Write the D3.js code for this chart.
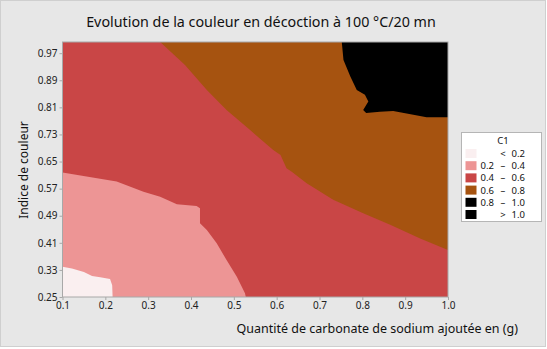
<!DOCTYPE html>
<html>
<head>
<meta charset="utf-8">
<script src="https://cdn.jsdelivr.net/npm/d3@7"></script>
<style>
  body { margin: 0; background: #fff; }
  svg { display: block; }
</style>
</head>
<body>
<script>
// contour boundaries, [x (g), indice]
const whiteEdge = [[0.1, 0.339], [0.122, 0.334], [0.150, 0.324], [0.169, 0.312], [0.188, 0.308],
  [0.211, 0.303], [0.216, 0.285], [0.217, 0.25]];
const pinkEdge = [[0.1, 0.618], [0.149, 0.607], [0.2265, 0.591], [0.289, 0.561], [0.328, 0.546],
  [0.367, 0.524], [0.413, 0.519], [0.421, 0.512], [0.421, 0.468], [0.437, 0.448], [0.460, 0.409],
  [0.483, 0.359], [0.507, 0.310], [0.526, 0.261], [0.528, 0.25]];
const orangeEdge = [[0.328, 1.003], [0.386, 0.935], [0.437, 0.861], [0.483, 0.802], [0.538, 0.743],
  [0.592, 0.684], [0.609, 0.669], [0.623, 0.630], [0.636, 0.619], [0.670, 0.586], [0.732, 0.537],
  [0.802, 0.497], [0.865, 0.463], [0.935, 0.423], [1.0, 0.389]];
const blackEdge = [[0.752, 1.003], [0.756, 0.950], [0.772, 0.901], [0.787, 0.861], [0.806, 0.847],
  [0.814, 0.827], [0.802, 0.802], [0.809, 0.793], [0.841, 0.797], [0.872, 0.799], [0.919, 0.788],
  [0.950, 0.781], [1.0, 0.781]];

const xTicks = [0.1, 0.2, 0.3, 0.4, 0.5, 0.6, 0.7, 0.8, 0.9, 1.0];
const yTicks = [0.25, 0.33, 0.41, 0.49, 0.57, 0.65, 0.73, 0.81, 0.89, 0.97];

const legendLabels = [["", "<", "0.2"], ["0.2", "–", "0.4"], ["0.4", "–", "0.6"],
  ["0.6", "–", "0.8"], ["0.8", "–", "1.0"], ["", ">", "1.0"]];
const colors = ["#faeff0", "#ed9595", "#c94646", "#a65310", "#000000", "#000000"];

const width = 547, height = 349;
const font = "'Noto Sans', 'Open Sans', sans-serif";

const svg = d3.select("body").append("svg")
  .attr("width", width).attr("height", height)
  .style("font-family", font);

svg.append("rect").attr("x", 0.5).attr("y", 0.5)
  .attr("width", width - 2).attr("height", height - 3)
  .attr("fill", "#e7e7e7").attr("stroke", "#cfcfcf");

const x = d3.scaleLinear().domain([0.1, 1.0]).range([62.5, 448]);
const y = d3.scaleLinear().domain([0.25, 1.003]).range([297, 42]);

const line = d3.line().x(d => x(d[0])).y(d => y(d[1]));

// base band 0.4 - 0.6 fills the whole plot
svg.append("rect")
  .attr("x", x(0.1)).attr("y", y(1.003))
  .attr("width", x(1.0) - x(0.1)).attr("height", y(0.25) - y(1.003))
  .attr("fill", colors[2]);

const regions = [
  { pts: pinkEdge.concat([[0.1, 0.25]]), c: colors[1] },
  { pts: whiteEdge.concat([[0.1, 0.25]]), c: colors[0] },
  { pts: orangeEdge.concat([[1.0, 1.003]]), c: colors[3] },
  { pts: blackEdge.concat([[1.0, 1.003]]), c: colors[4] }
];

svg.selectAll("path.region")
  .data(regions)
  .enter()
  .append("path")
  .attr("class", "region")
  .attr("d", d => line(d.pts) + "Z")
  .attr("fill", d => d.c);

// frame
svg.append("rect")
  .attr("x", x(0.1)).attr("y", y(1.003))
  .attr("width", x(1.0) - x(0.1)).attr("height", y(0.25) - y(1.003))
  .attr("fill", "none").attr("stroke", "#a8a8a8");

const xAxis = svg.append("g")
  .attr("transform", `translate(0,${y(0.25)})`)
  .call(d3.axisBottom(x).tickValues(xTicks).tickFormat(d3.format(".1f")).tickSize(3).tickPadding(2));
const yAxis = svg.append("g")
  .attr("transform", `translate(${x(0.1)},0)`)
  .call(d3.axisLeft(y).tickValues(yTicks).tickFormat(d3.format(".2f")).tickSize(3).tickPadding(2));

[xAxis, yAxis].forEach(g => {
  g.select(".domain").remove();
  g.selectAll("line").attr("stroke", "#a8a8a8");
  g.selectAll("text").attr("fill", "#222").style("font-size", "10px").style("font-family", font);
});

svg.append("text")
  .attr("x", 261).attr("y", 27)
  .attr("text-anchor", "middle")
  .style("font-size", "14.3px").attr("fill", "#111")
  .text("Evolution de la couleur en décoction à 100 °C/20 mn");

svg.append("text")
  .attr("transform", "translate(28,170) rotate(-90)")
  .attr("text-anchor", "middle")
  .style("font-size", "12px").attr("fill", "#111")
  .text("Indice de couleur");

svg.append("text")
  .attr("x", 518).attr("y", 333)
  .attr("text-anchor", "end")
  .style("font-size", "12.5px").attr("fill", "#111")
  .text("Quantité de carbonate de sodium ajoutée en (g)");

// legend
const lg = svg.append("g");
lg.append("rect").attr("x", 461.5).attr("y", 132.5).attr("width", 80).attr("height", 89)
  .attr("fill", "#fff").attr("stroke", "#b5b5b5");
lg.append("text").attr("x", 503).attr("y", 144).attr("text-anchor", "middle")
  .style("font-size", "9.5px").attr("fill", "#111").text("C1");

const rows = lg.selectAll("g.row")
  .data(legendLabels)
  .enter()
  .append("g")
  .attr("class", "row")
  .attr("transform", (d, i) => `translate(0,${153.5 + i * 12.2})`);

rows.append("rect").attr("x", 465.5).attr("y", -4.5).attr("width", 11).attr("height", 9)
  .attr("fill", (d, i) => colors[i]);
rows.append("text").attr("x", 494).attr("y", 3.5).attr("text-anchor", "end")
  .style("font-size", "9.5px").attr("fill", "#111").text(d => d[0]);
rows.append("text").attr("x", 503).attr("y", 3.5).attr("text-anchor", "middle")
  .style("font-size", "9.5px").attr("fill", "#111").text(d => d[1]);
rows.append("text").attr("x", 525).attr("y", 3.5).attr("text-anchor", "end")
  .style("font-size", "9.5px").attr("fill", "#111").text(d => d[2]);
</script>
</body>
</html>
